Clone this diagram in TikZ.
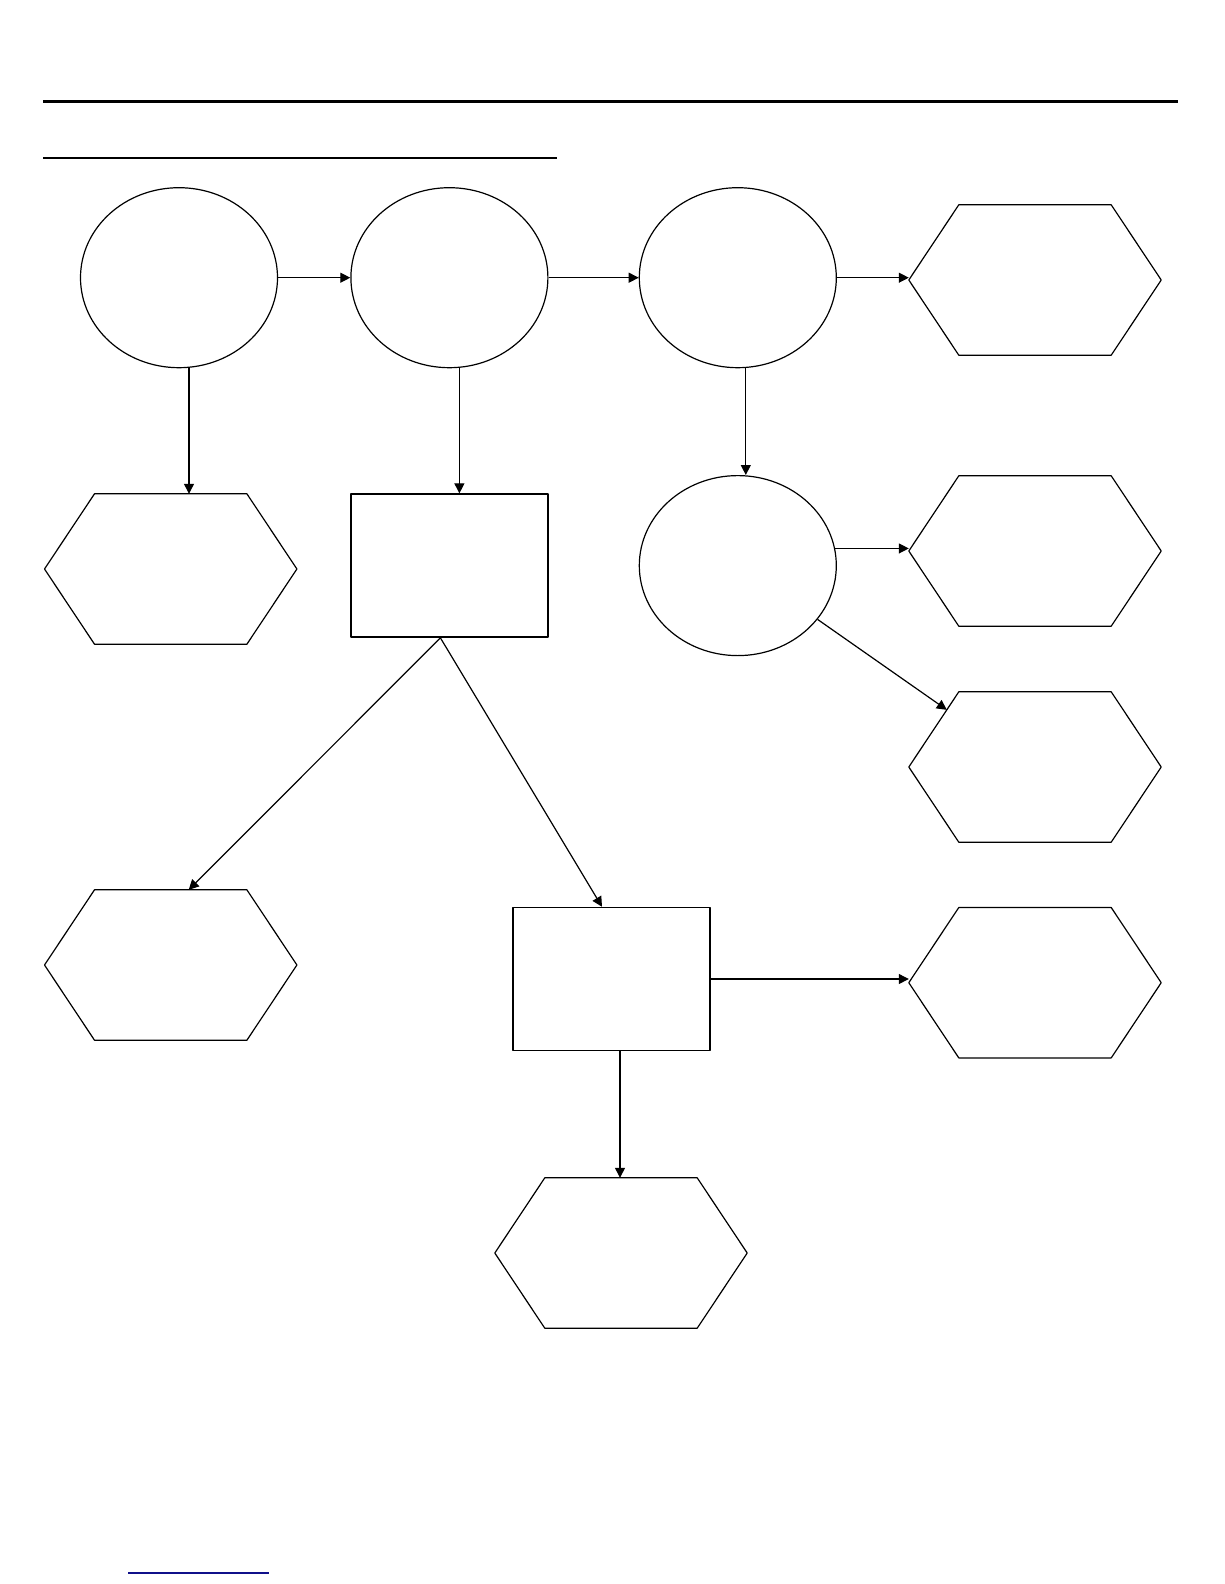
\documentclass[tikz,border=0pt]{standalone}
\usepackage{tikz}
\usetikzlibrary{arrows.meta,shapes.geometric,calc}
\definecolor{linkblue}{HTML}{10108A}
\tikzset{
  every picture/.style={line join=round, >=Stealth},
  arr/.style={->, line width=1.2bp, >={Triangle[length=10bp,width=10bp]}},
  bubble/.style={draw, ellipse, line width=1.2bp, minimum width=197bp, minimum height=180bp, inner sep=0pt},
  box/.style={draw, rectangle, line width=1.5bp, minimum width=197bp, minimum height=143bp, inner sep=0pt},
  hexa/.style={rectangle, minimum width=252bp, minimum height=150bp, inner sep=0pt},
}

\begin{document}
\begin{tikzpicture}[x=1bp,y=-1bp]
\useasboundingbox (0,0) rectangle (1224,1584);
\draw[line width=3bp](43,102)--(1178,102);
\draw[line width=2bp](43,158)--(557,158);
\draw[linkblue,line width=1.2bp](128,1573)--(269,1573);
\node[bubble] (e1) at (179,277.7) {};
\node[bubble] (e2) at (449.4,277.7) {};
\node[bubble] (e3) at (737.8,277.7) {};
\node[bubble] (e4) at (737.8,565.6) {};
\node[box] (r1) at (449.4,565.6) {};
\node[box] (r2) at (611.5,979) {};
\node[hexa] (h1) at (1035,280) {};
\node[hexa] (h2) at (1035,551) {};
\node[hexa] (h3) at (1035,767) {};
\node[hexa] (h4) at (1035,982.7) {};
\node[hexa] (h5) at (170.7,569) {};
\node[hexa] (h6) at (170.7,965) {};
\node[hexa] (h7) at (621,1253) {};
\foreach \h in {h1,h2,h3,h4,h5,h6,h7}
  \draw[line width=1.2bp](\h.west)--([xshift=50bp]\h.north west)--([xshift=-50bp]\h.north east)
    --(\h.east)--([xshift=-50bp]\h.south east)--([xshift=50bp]\h.south west)--cycle;
\coordinate (r1b) at ([xshift=-9bp]r1.south);
\draw[arr](e1.east)--(e2.west);
\draw[arr](e2.east)--(e3.west);
\draw[arr](e3.east)--(e3.east -| h1.west);
\draw[arr]([xshift=10bp]e1.south)--([xshift=10bp]e1.south |- h5.north);
\draw[arr]([xshift=10bp]e2.south)--([xshift=10bp]e2.south |- r1.north);
\draw[arr]([xshift=8bp]e3.south)--([xshift=8bp]e3.south |- e4.north);
\draw[arr](e4.10)--(e4.10 -| h2.west);
\draw[arr](e4.-34)--($(h3.west)!0.76!([xshift=50bp]h3.north west)$);
\draw[arr](r1b)--([xshift=18bp]h6.north);
\draw[arr](r1b)--([xshift=-9.5bp]r2.north);
\draw[arr](r2.east)--(r2.east -| h4.west);
\draw[arr]([xshift=8.5bp]r2.south)--([xshift=8.5bp]r2.south |- h7.north);
\end{tikzpicture}
\end{document}
